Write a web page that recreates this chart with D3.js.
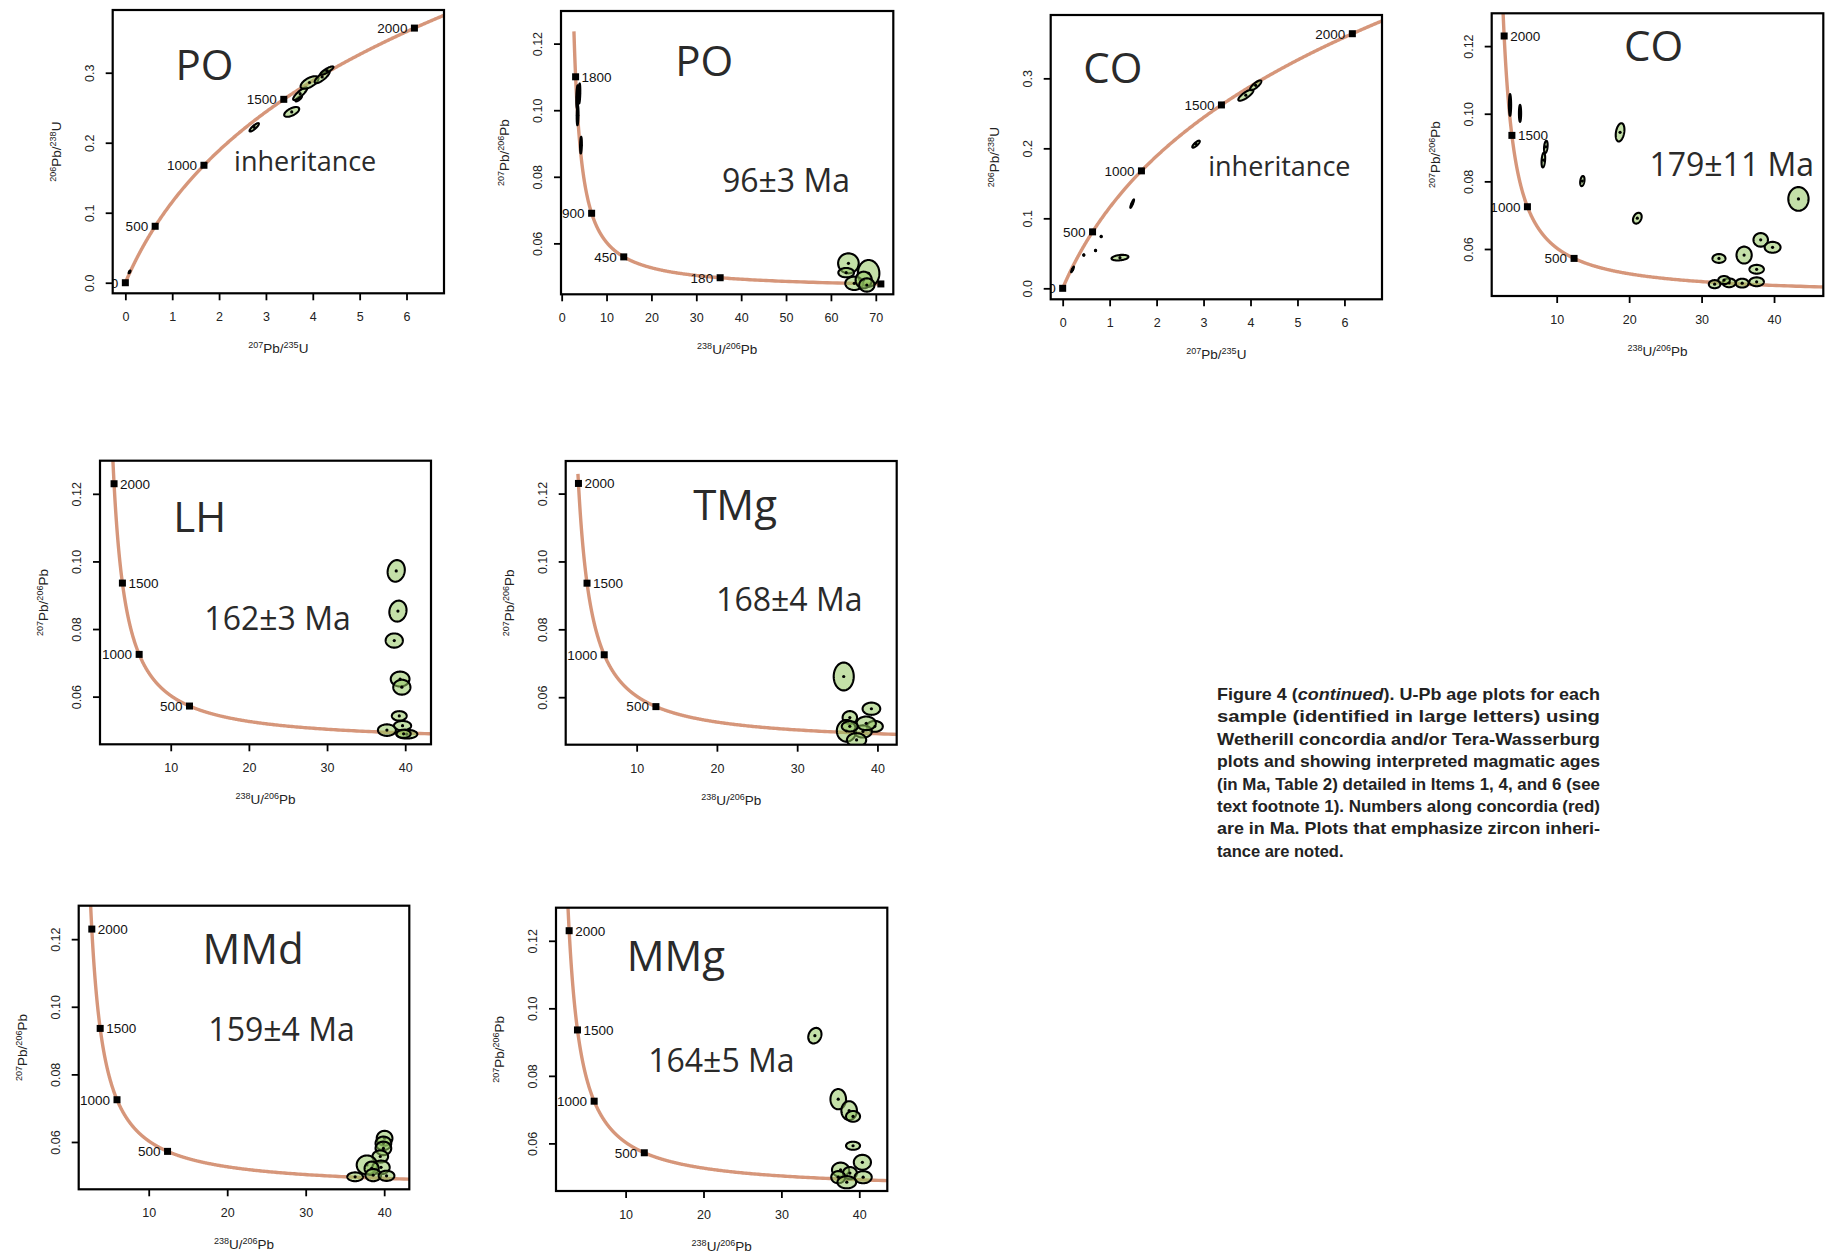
<!DOCTYPE html>
<html lang="en">
<head>
<meta charset="UTF-8">
<title>U-Pb age plots</title>
<script src="https://cdnjs.cloudflare.com/ajax/libs/d3/7.8.5/d3.min.js"></script>
<style>
  body { margin: 0; background: #fff; }
  svg { display: block; }
  .tick text { font-family: "Liberation Sans", Arial, sans-serif; font-size: 12.5px; fill: #222; }
  .tick line { stroke: #000; stroke-width: 1.8px; }
  .axis-title { font-family: "Liberation Sans", Arial, sans-serif; font-size: 13.5px; fill: #222; }
  .age-label { font-family: "Liberation Sans", Arial, sans-serif; font-size: 13.5px; fill: #111; }
  .big { font-family: "Open Sans", sans-serif; fill: #2a2a2a; }
  .caption { font-family: "Liberation Sans", Arial, sans-serif; font-size: 16.5px; font-weight: bold; fill: #222; }
</style>
</head>
<body>
<div id="chart"></div>
<script>
// decay constants (per Ma) and 238U/235U
const L238 = 1.55125e-4;
const L235 = 9.8485e-4;
const U_RATIO = 137.88;

// sample names and interpreted ages
const sampleNames = ["PO", "PO", "CO", "CO", "LH", "TMg", "MMd", "MMg"];
const ageTexts = ["inheritance", "96±3 Ma", "inheritance", "179±11 Ma", "162±3 Ma", "168±4 Ma", "159±4 Ma", "164±5 Ma"];

// concordia age markers (Ma)
const wethMarkerAges = [0, 500, 1000, 1500, 2000];
const poTwMarkerAges = [1800, 900, 450, 180, 90];
const twMarkerAges = [2000, 1500, 1000, 500];

// axis ticks
const wethXTicks = [0, 1, 2, 3, 4, 5, 6];
const wethYTicks = [0, 0.1, 0.2, 0.3];
const poTwXTicks = [0, 10, 20, 30, 40, 50, 60, 70];
const twXTicks = [10, 20, 30, 40];
const twYTicks = [0.06, 0.08, 0.10, 0.12];

// analyses: x, y, 2s errors and error correlation
const poWeth = [
  {x: 0.09, y: 0.0155, sx: 0.02, sy: 0.002, rho: 0.8},
  {x: 2.75, y: 0.222, sx: 0.10, sy: 0.006, rho: 0.85},
  {x: 3.55, y: 0.244, sx: 0.16, sy: 0.007, rho: 0.6},
  {x: 3.70, y: 0.263, sx: 0.07, sy: 0.004, rho: 0.8},
  {x: 3.73, y: 0.270, sx: 0.15, sy: 0.009, rho: 0.85},
  {x: 3.93, y: 0.286, sx: 0.19, sy: 0.009, rho: 0.6},
  {x: 4.20, y: 0.294, sx: 0.16, sy: 0.009, rho: 0.8},
  {x: 4.30, y: 0.303, sx: 0.14, sy: 0.006, rho: 0.85}
];
const poTw = [
  {x: 3.5, y: 0.1040, sx: 0.25, sy: 0.0035, rho: 0.3},
  {x: 3.95, y: 0.1050, sx: 0.2, sy: 0.003, rho: 0.3},
  {x: 3.55, y: 0.0985, sx: 0.2, sy: 0.003, rho: 0.2},
  {x: 4.3, y: 0.0895, sx: 0.2, sy: 0.0025, rho: 0.2},
  {x: 63.9, y: 0.0540, sx: 2.3, sy: 0.0030, rho: 0},
  {x: 63.4, y: 0.0512, sx: 1.75, sy: 0.0014, rho: 0},
  {x: 68.4, y: 0.0510, sx: 2.4, sy: 0.0040, rho: 0},
  {x: 65.2, y: 0.0480, sx: 2.0, sy: 0.0020, rho: 0},
  {x: 67.3, y: 0.0490, sx: 1.8, sy: 0.0025, rho: 0},
  {x: 68.0, y: 0.0475, sx: 1.7, sy: 0.0020, rho: 0}
];
const coWeth = [
  {x: 0.21, y: 0.027, sx: 0.03, sy: 0.004, rho: 0.9},
  {x: 0.45, y: 0.0476, sx: 0.01, sy: 0.001, rho: 0},
  {x: 0.70, y: 0.054, sx: 0.01, sy: 0.001, rho: 0},
  {x: 0.82, y: 0.074, sx: 0.01, sy: 0.001, rho: 0},
  {x: 1.22, y: 0.0438, sx: 0.18, sy: 0.004, rho: 0.3},
  {x: 1.48, y: 0.121, sx: 0.04, sy: 0.006, rho: 0.9},
  {x: 2.84, y: 0.206, sx: 0.08, sy: 0.005, rho: 0.8},
  {x: 3.90, y: 0.276, sx: 0.16, sy: 0.008, rho: 0.8},
  {x: 4.11, y: 0.290, sx: 0.12, sy: 0.007, rho: 0.8}
];
const coTw = [
  {x: 3.56, y: 0.1026, sx: 0.15, sy: 0.0032, rho: 0},
  {x: 4.94, y: 0.1001, sx: 0.15, sy: 0.0025, rho: 0},
  {x: 8.16, y: 0.0863, sx: 0.25, sy: 0.0022, rho: 0.3},
  {x: 8.5, y: 0.0902, sx: 0.25, sy: 0.0018, rho: 0.3},
  {x: 13.54, y: 0.0801, sx: 0.3, sy: 0.0015, rho: 0.3},
  {x: 18.75, y: 0.0945, sx: 0.6, sy: 0.0027, rho: 0.3},
  {x: 21.13, y: 0.0691, sx: 0.6, sy: 0.0016, rho: 0.3},
  {x: 43.37, y: 0.0748, sx: 1.4, sy: 0.0035, rho: 0},
  {x: 38.16, y: 0.0627, sx: 1.0, sy: 0.0020, rho: 0},
  {x: 39.8, y: 0.0605, sx: 1.1, sy: 0.0016, rho: 0},
  {x: 35.87, y: 0.0582, sx: 1.05, sy: 0.0025, rho: 0},
  {x: 32.4, y: 0.0572, sx: 0.9, sy: 0.0013, rho: 0},
  {x: 37.6, y: 0.0540, sx: 1.0, sy: 0.0013, rho: 0},
  {x: 37.6, y: 0.0503, sx: 1.0, sy: 0.0013, rho: 0},
  {x: 35.6, y: 0.0499, sx: 0.9, sy: 0.0013, rho: 0},
  {x: 33.8, y: 0.0500, sx: 0.9, sy: 0.0013, rho: 0},
  {x: 33.1, y: 0.0508, sx: 0.8, sy: 0.0012, rho: 0},
  {x: 31.8, y: 0.0496, sx: 0.8, sy: 0.0012, rho: 0}
];
const lhTw = [
  {x: 38.85, y: 0.0972, sx: 1.1, sy: 0.0032, rho: 0.1},
  {x: 39.07, y: 0.0853, sx: 1.1, sy: 0.0031, rho: 0.1},
  {x: 38.6, y: 0.0766, sx: 1.1, sy: 0.0021, rho: 0},
  {x: 39.35, y: 0.0652, sx: 1.2, sy: 0.0022, rho: 0},
  {x: 39.57, y: 0.0628, sx: 1.1, sy: 0.0022, rho: 0},
  {x: 39.24, y: 0.0543, sx: 0.95, sy: 0.0014, rho: 0},
  {x: 39.66, y: 0.0514, sx: 1.1, sy: 0.0014, rho: 0},
  {x: 37.66, y: 0.0501, sx: 1.15, sy: 0.0017, rho: 0},
  {x: 40.2, y: 0.0489, sx: 1.35, sy: 0.0013, rho: 0},
  {x: 39.8, y: 0.0490, sx: 0.9, sy: 0.0012, rho: 0}
];
const tmgTw = [
  {x: 35.8, y: 0.0661, sx: 1.25, sy: 0.0041, rho: 0},
  {x: 39.25, y: 0.0566, sx: 1.1, sy: 0.0018, rho: 0},
  {x: 36.56, y: 0.0540, sx: 0.9, sy: 0.0019, rho: 0},
  {x: 39.67, y: 0.0514, sx: 1.0, sy: 0.0016, rho: 0},
  {x: 36.14, y: 0.0501, sx: 1.2, sy: 0.0032, rho: 0},
  {x: 38.2, y: 0.0499, sx: 1.1, sy: 0.0018, rho: 0},
  {x: 37.4, y: 0.0474, sx: 1.2, sy: 0.0020, rho: 0},
  {x: 38.6, y: 0.0523, sx: 1.2, sy: 0.0020, rho: 0},
  {x: 36.56, y: 0.0514, sx: 1.0, sy: 0.0015, rho: 0}
];
const mmdTw = [
  {x: 40.05, y: 0.0611, sx: 1.0, sy: 0.0022, rho: 0},
  {x: 39.9, y: 0.0596, sx: 1.0, sy: 0.0020, rho: 0},
  {x: 39.9, y: 0.0581, sx: 1.0, sy: 0.0020, rho: 0},
  {x: 39.5, y: 0.0557, sx: 1.0, sy: 0.0018, rho: 0},
  {x: 37.8, y: 0.0532, sx: 1.3, sy: 0.0028, rho: 0},
  {x: 39.6, y: 0.0525, sx: 1.1, sy: 0.0020, rho: 0},
  {x: 38.4, y: 0.0522, sx: 0.9, sy: 0.0020, rho: 0},
  {x: 38.6, y: 0.0502, sx: 1.0, sy: 0.0018, rho: 0},
  {x: 40.3, y: 0.0500, sx: 1.0, sy: 0.0015, rho: 0},
  {x: 36.3, y: 0.0497, sx: 1.0, sy: 0.0013, rho: 0}
];
const mmgTw = [
  {x: 34.3, y: 0.0919, sx: 0.85, sy: 0.0023, rho: 0.2},
  {x: 37.3, y: 0.0731, sx: 1.0, sy: 0.0030, rho: 0},
  {x: 38.7, y: 0.0697, sx: 1.0, sy: 0.0028, rho: 0},
  {x: 39.2, y: 0.0680, sx: 0.9, sy: 0.0016, rho: 0},
  {x: 39.2, y: 0.0593, sx: 0.9, sy: 0.0012, rho: 0},
  {x: 40.4, y: 0.0544, sx: 1.1, sy: 0.0022, rho: 0},
  {x: 37.6, y: 0.0522, sx: 1.1, sy: 0.0021, rho: 0},
  {x: 38.8, y: 0.0512, sx: 0.9, sy: 0.0018, rho: 0},
  {x: 40.5, y: 0.0500, sx: 1.1, sy: 0.0018, rho: 0},
  {x: 37.3, y: 0.0500, sx: 0.9, sy: 0.0018, rho: 0},
  {x: 38.4, y: 0.0485, sx: 1.2, sy: 0.0018, rho: 0}
];

const captionLines = [
  ["Figure 4 (", "continued", "). U-Pb age plots for each"],
  ["sample (identified in large letters) using"],
  ["Wetherill concordia and/or Tera-Wasserburg"],
  ["plots and showing interpreted magmatic ages"],
  ["(in Ma, Table 2) detailed in Items 1, 4, and 6 (see"],
  ["text footnote 1). Numbers along concordia (red)"],
  ["are in Ma. Plots that emphasize zircon inheri-"],
  ["tance are noted."]
];

// panel layout
const panels = [
  {type: "weth", box: [112.7, 10, 444, 293.3], xDom: [-0.27, 6.8], yDom: [-0.0151, 0.3896],
   xTicks: wethXTicks, yTicks: wethYTicks, markers: wethMarkerAges, curve: [0, 2200], data: poWeth,
   nameAt: [1.07, 0.29], textAt: [2.32, 0.159], textSize: 27},
  {type: "tw", box: [561, 11, 893.3, 294.3], xDom: [-0.15, 73.9], yDom: [0.0447, 0.1298],
   xTicks: poTwXTicks, yTicks: twYTicks, markers: poTwMarkerAges, curve: [90, 2010], data: poTw,
   nameAt: [25.3, 0.1103], textAt: [35.7, 0.0755], textSize: 32},
  {type: "weth", box: [1050.7, 15, 1382, 299.3], xDom: [-0.255, 6.8], yDom: [-0.0157, 0.3905],
   xTicks: wethXTicks, yTicks: wethYTicks, markers: wethMarkerAges, curve: [0, 2200], data: coWeth,
   nameAt: [0.44, 0.293], textAt: [3.10, 0.160], textSize: 27},
  {type: "tw", box: [1491.7, 13.3, 1823.3, 296], xDom: [1.03, 46.8], yDom: [0.0461, 0.1297],
   xTicks: twXTicks, yTicks: twYTicks, markers: twMarkerAges, curve: [100, 2300], data: coTw,
   nameAt: [19.3, 0.1157], textAt: [22.8, 0.0816], textSize: 32},
  {type: "tw", box: [100, 460.7, 431, 744.3], xDom: [0.95, 43.3], yDom: [0.0459, 0.1298],
   xTicks: twXTicks, yTicks: twYTicks, markers: twMarkerAges, curve: [100, 2300], data: lhTw,
   nameAt: [10.33, 0.1088], textAt: [14.3, 0.0797], textSize: 32},
  {type: "tw", box: [565.7, 461, 896.7, 744.7], xDom: [1.16, 42.4], yDom: [0.0460, 0.1296],
   xTicks: twXTicks, yTicks: twYTicks, markers: twMarkerAges, curve: [100, 2040], data: tmgTw,
   nameAt: [17.05, 0.1123], textAt: [19.9, 0.0855], textSize: 32},
  {type: "tw", box: [78.7, 905.7, 409.3, 1189.3], xDom: [1.08, 43.2], yDom: [0.0460, 0.1299],
   xTicks: twXTicks, yTicks: twYTicks, markers: twMarkerAges, curve: [100, 2300], data: mmdTw,
   nameAt: [16.84, 0.1126], textAt: [17.6, 0.0899], textSize: 32},
  {type: "tw", box: [556, 907.7, 887.3, 1191], xDom: [1.06, 43.6], yDom: [0.0459, 0.1298],
   xTicks: twXTicks, yTicks: twYTicks, markers: twMarkerAges, curve: [100, 2300], data: mmgTw,
   nameAt: [10.13, 0.111], textAt: [12.9, 0.0810], textSize: 32}
];

// concordia coordinates for an age t (Ma)
function wetherill(t) {
  return [Math.expm1(L235 * t), Math.expm1(L238 * t)];
}
function teraW(t) {
  const a = Math.expm1(L238 * t), b = Math.expm1(L235 * t);
  return [1 / a, b / a / U_RATIO];
}

const svg = d3.select("#chart").append("svg")
  .attr("width", 1831)
  .attr("height", 1256);

svg.append("rect").attr("width", 1831).attr("height", 1256).attr("fill", "#fff");

// superscript helper for the axis titles
function isoTitle(sel, parts) {
  parts.forEach(p => {
    sel.append("tspan")
      .attr("font-size", p.sup ? 9 : 13.5)
      .attr("dy", p.sup ? -5 : (p.after ? 5 : 0))
      .text(p.t);
  });
}

panels.forEach((p, i) => {
  const [x0, y0, x1, y1] = p.box;
  const w = x1 - x0, h = y1 - y0;
  const g = svg.append("g").attr("transform", `translate(${x0},${y0})`);
  const x = d3.scaleLinear().domain(p.xDom).range([0, w]);
  const y = d3.scaleLinear().domain(p.yDom).range([h, 0]);
  const conc = p.type === "weth" ? wetherill : teraW;

  const clipId = "clip" + i;
  g.append("clipPath").attr("id", clipId)
    .append("rect").attr("width", w).attr("height", h);
  const plot = g.append("g").attr("clip-path", `url(#${clipId})`);

  // concordia line
  const ages = d3.range(p.curve[0], p.curve[1] + 1, 2);
  plot.append("path")
    .datum(ages.map(conc))
    .attr("fill", "none")
    .attr("stroke", "#d6967a")
    .attr("stroke-width", 3.4)
    .attr("d", d3.line().x(d => x(d[0])).y(d => y(d[1])));

  // marker labels
  const labelAges = p.markers.filter(t => t !== 90);
  plot.selectAll(".age-label")
    .data(labelAges)
    .join("text")
    .attr("class", "age-label")
    .attr("x", t => {
      const px = x(conc(t)[0]);
      return (p.type === "tw" && t >= 1500) ? px + 6 : px - 7;
    })
    .attr("y", t => y(conc(t)[1]))
    .attr("dy", "0.36em")
    .attr("text-anchor", t => (p.type === "tw" && t >= 1500) ? "start" : "end")
    .text(t => t);

  // error ellipses
  const ellipse = e => d3.range(0, 72).map(k => {
    const a = k / 72 * 2 * Math.PI;
    return [
      x(e.x + e.sx * Math.cos(a)),
      y(e.y + e.sy * (e.rho * Math.cos(a) + Math.sqrt(1 - e.rho * e.rho) * Math.sin(a)))
    ];
  });
  const ell = plot.selectAll(".ell").data(p.data).join("g").attr("class", "ell");
  ell.append("path")
    .attr("d", e => d3.line().curve(d3.curveLinearClosed)(ellipse(e)))
    .attr("fill", "#94c760")
    .attr("fill-opacity", 0.55)
    .attr("stroke", "#000")
    .attr("stroke-width", 2.1);
  ell.append("circle")
    .attr("cx", e => x(e.x))
    .attr("cy", e => y(e.y))
    .attr("r", 1.6)
    .attr("fill", "#000");

  // age markers
  plot.selectAll(".marker")
    .data(p.markers)
    .join("rect")
    .attr("class", "marker")
    .attr("x", t => x(conc(t)[0]) - 3.5)
    .attr("y", t => y(conc(t)[1]) - 3.5)
    .attr("width", 7)
    .attr("height", 7)
    .attr("fill", "#000");

  // sample name and age text
  g.append("text").attr("class", "big")
    .attr("x", x(p.nameAt[0])).attr("y", y(p.nameAt[1]))
    .attr("font-size", 42)
    .text(sampleNames[i]);
  g.append("text").attr("class", "big")
    .attr("x", x(p.textAt[0])).attr("y", y(p.textAt[1]))
    .attr("font-size", p.textSize)
    .text(ageTexts[i]);

  // axes
  const yFmt = p.type === "weth" ? d3.format(".1f") : d3.format(".2f");
  const xAxis = g.append("g")
    .attr("transform", `translate(0,${h})`)
    .call(d3.axisBottom(x).tickValues(p.xTicks).tickSize(7).tickFormat(d3.format("d")));
  xAxis.select(".domain").remove();
  xAxis.selectAll(".tick text").attr("y", 28).attr("dy", 0);

  const yAxis = g.append("g")
    .call(d3.axisLeft(y).tickValues(p.yTicks).tickSize(7).tickFormat(yFmt));
  yAxis.select(".domain").remove();
  yAxis.selectAll(".tick text")
    .attr("x", null).attr("dy", 0)
    .attr("text-anchor", "middle")
    .attr("transform", "translate(-19,0) rotate(-90)");

  // frame
  g.append("rect")
    .attr("width", w).attr("height", h)
    .attr("fill", "none").attr("stroke", "#000").attr("stroke-width", 2.2);

  // axis titles
  const xt = g.append("text").attr("class", "axis-title")
    .attr("x", w / 2).attr("y", h + 60).attr("text-anchor", "middle");
  const ytg = g.append("text").attr("class", "axis-title")
    .attr("text-anchor", "middle")
    .attr("transform", `translate(-52,${h / 2}) rotate(-90)`);
  if (p.type === "weth") {
    isoTitle(xt, [{t: "207", sup: true}, {t: "Pb/", after: true}, {t: "235", sup: true}, {t: "U", after: true}]);
    isoTitle(ytg, [{t: "206", sup: true}, {t: "Pb/", after: true}, {t: "238", sup: true}, {t: "U", after: true}]);
  } else {
    isoTitle(xt, [{t: "238", sup: true}, {t: "U/", after: true}, {t: "206", sup: true}, {t: "Pb", after: true}]);
    isoTitle(ytg, [{t: "207", sup: true}, {t: "Pb/", after: true}, {t: "206", sup: true}, {t: "Pb", after: true}]);
  }
});

// caption
const cap = svg.append("g").attr("transform", "translate(1217,700)");
captionLines.forEach((parts, k) => {
  const t = cap.append("text").attr("class", "caption")
    .attr("x", 0).attr("y", k * 22.4);
  if (k < captionLines.length - 1) {
    t.attr("textLength", 383).attr("lengthAdjust", "spacingAndGlyphs");
  }
  parts.forEach((s, j) => {
    t.append("tspan").attr("font-style", (k === 0 && j === 1) ? "italic" : null).text(s);
  });
});
</script>
</body>
</html>
